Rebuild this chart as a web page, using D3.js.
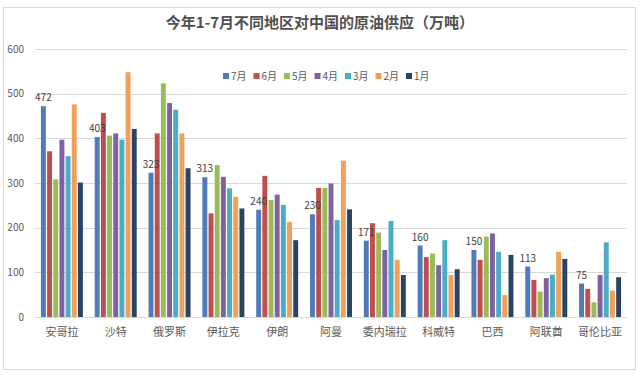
<!DOCTYPE html>
<html>
<head>
<meta charset="utf-8">
<script src="https://cdn.jsdelivr.net/npm/d3@7"></script>
<style>
  body { margin: 0; background: #fff; }
  svg { display: block; font-family: "Noto Sans CJK SC", "Noto Sans", sans-serif; }
</style>
</head>
<body>
<div id="chart"></div>
<script>
var regions = ['安哥拉', '沙特', '俄罗斯', '伊拉克', '伊朗', '阿曼', '委内瑞拉', '科威特', '巴西', '阿联酋', '哥伦比亚'];
var months = ['7月', '6月', '5月', '4月', '3月', '2月', '1月'];
var jul = [472, 403, 323, 313, 240, 230, 171, 160, 150, 113, 75];
var jun = [371, 457, 411, 232, 316, 289, 210, 134, 128, 83, 63];
var may = [308, 406, 523, 340, 262, 289, 189, 142, 180, 57, 33];
var apr = [397, 411, 479, 314, 274, 299, 150, 116, 187, 87, 94];
var mar = [360, 397, 464, 288, 251, 217, 215, 172, 146, 95, 167];
var feb = [476, 548, 411, 269, 213, 350, 128, 94, 49, 146, 59];
var jan = [301, 421, 333, 243, 172, 241, 94, 107, 139, 130, 89];
var yTicks = [0, 100, 200, 300, 400, 500, 600];
var colors = ['#4f7cb8', '#bf4f4c', '#9bbb59', '#7f63a1', '#4bacc6', '#f0a05a', '#2a4463'];

var series = [jul, jun, may, apr, mar, feb, jan];

var width = 640, height = 376;
var svg = d3.select('#chart').append('svg')
    .attr('width', width)
    .attr('height', height);

// frame
svg.append('rect')
    .attr('x', 3.5).attr('y', 7.5)
    .attr('width', 632).attr('height', 362)
    .attr('fill', '#fff')
    .attr('stroke', '#d9d9d9');

svg.append('text')
    .attr('x', 320).attr('y', 28)
    .attr('text-anchor', 'middle')
    .attr('font-size', 15)
    .attr('font-weight', 'bold')
    .attr('fill', '#505050')
    .text('今年1-7月不同地区对中国的原油供应（万吨）');

var x = d3.scaleBand()
    .domain(regions)
    .range([35, 627])
    .paddingInner(0.22)
    .paddingOuter(0.11);

var xSub = d3.scaleBand()
    .domain(d3.range(months.length))
    .range([0, x.bandwidth()])
    .paddingInner(0.2);

var y = d3.scaleLinear()
    .domain([0, 600])
    .range([317, 49]);

// gridlines
svg.append('g')
    .selectAll('line')
    .data(yTicks)
  .enter().append('line')
    .attr('x1', 35).attr('x2', 627)
    .attr('y1', function(d) { return Math.round(y(d)) + 0.5; })
    .attr('y2', function(d) { return Math.round(y(d)) + 0.5; })
    .attr('stroke', '#d9d9d9');

svg.append('g')
    .selectAll('text')
    .data(yTicks)
  .enter().append('text')
    .attr('x', 24)
    .attr('y', function(d) { return y(d) + 3.5; })
    .attr('text-anchor', 'end')
    .attr('font-size', 10)
    .attr('fill', '#595959')
    .text(function(d) { return d; });

// bars
var groups = svg.append('g')
    .selectAll('g')
    .data(series)
  .enter().append('g')
    .attr('fill', function(d, i) { return colors[i]; });

groups.each(function(vals, si) {
    d3.select(this).selectAll('rect')
        .data(vals)
      .enter().append('rect')
        .attr('x', function(d, ci) { return x(regions[ci]) + xSub(si); })
        .attr('y', function(d) { return y(d); })
        .attr('width', xSub.bandwidth())
        .attr('height', function(d) { return y(0) - y(d); });
});

// data labels on 7月
svg.append('g')
    .selectAll('text')
    .data(jul)
  .enter().append('text')
    .attr('x', function(d, ci) { return x(regions[ci]) + xSub(0) + xSub.bandwidth() / 2; })
    .attr('y', function(d) { return y(d) - 5; })
    .attr('text-anchor', 'middle')
    .attr('font-size', 10)
    .attr('fill', '#404040')
    .text(function(d) { return d; });

// category labels
svg.append('g')
    .selectAll('text')
    .data(regions)
  .enter().append('text')
    .attr('x', function(d) { return x(d) + x.bandwidth() / 2; })
    .attr('y', 336)
    .attr('text-anchor', 'middle')
    .attr('font-size', 11)
    .attr('fill', '#595959')
    .text(function(d) { return d; });

// legend
var legend = svg.append('g')
    .selectAll('g')
    .data(months)
  .enter().append('g')
    .attr('transform', function(d, i) { return 'translate(' + (223 + i * 30.5) + ',76)'; });

legend.append('rect')
    .attr('x', 0).attr('y', -3)
    .attr('width', 6).attr('height', 6)
    .attr('fill', function(d, i) { return colors[i]; });

legend.append('text')
    .attr('x', 8).attr('y', 4)
    .attr('font-size', 10)
    .attr('fill', '#595959')
    .text(function(d) { return d; });
</script>
</body>
</html>
